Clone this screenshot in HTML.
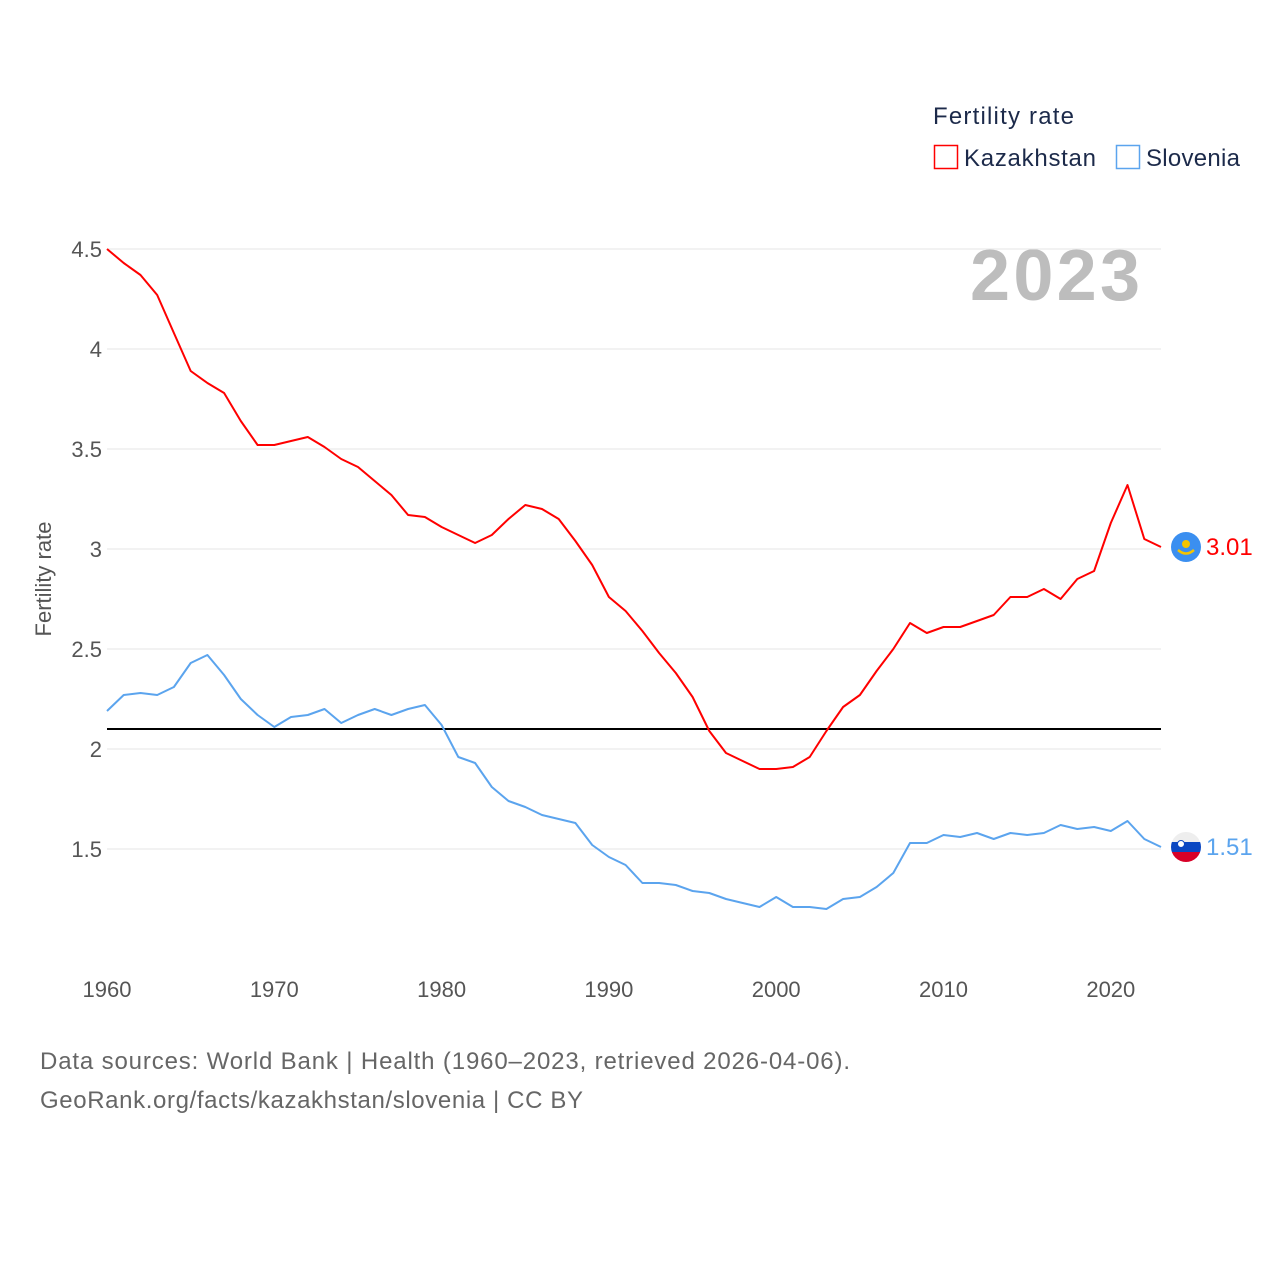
<!DOCTYPE html>
<html><head><meta charset="utf-8"><style>
html,body{margin:0;padding:0;background:#fff;}
body{width:1280px;height:1280px;overflow:hidden;font-family:"Liberation Sans",sans-serif;}
svg text{font-family:"Liberation Sans",sans-serif;}
</style></head><body>
<svg id="chart" width="1280" height="1280" viewBox="0 0 1280 1280">
<g>
<text x="933" y="124" font-size="24" fill="#1c2a4a" textLength="141">Fertility rate</text>
<rect x="934.5" y="145.5" width="23" height="23" fill="none" stroke="#ff0000" stroke-width="1.5"/>
<text x="964" y="166" font-size="24" fill="#1c2a4a" textLength="132">Kazakhstan</text>
<rect x="1116.5" y="145.5" width="23" height="23" fill="none" stroke="#5ba4ee" stroke-width="1.5"/>
<text x="1146" y="166" font-size="24" fill="#1c2a4a" textLength="94">Slovenia</text>
</g>
<text x="970" y="300" font-size="72" font-weight="bold" fill="#bdbdbd" textLength="170">2023</text>
<text transform="translate(51,579) rotate(-90)" font-size="22" fill="#555" text-anchor="middle">Fertility rate</text>
<g id="grid"></g>
<g id="yticks"></g>
<g id="xticks"></g>
<g id="series"></g>
<text x="40" y="1069" font-size="24" fill="#666" textLength="810">Data sources: World Bank | Health (1960–2023, retrieved 2026-04-06).</text>
<text x="40" y="1108" font-size="24" fill="#666" textLength="543">GeoRank.org/facts/kazakhstan/slovenia | CC BY</text>
</svg>
<script>
const years = [];
for (let y = 1960; y <= 2023; y++) years.push(y);
const kazakhstan = [4.50,4.43,4.37,4.27,4.08,3.89,3.83,3.78,3.64,3.52,3.52,3.54,3.56,3.51,3.45,3.41,3.34,3.27,3.17,3.16,3.11,3.07,3.03,3.07,3.15,3.22,3.20,3.15,3.04,2.92,2.76,2.69,2.59,2.48,2.38,2.26,2.09,1.98,1.94,1.90,1.90,1.91,1.96,2.09,2.21,2.27,2.39,2.50,2.63,2.58,2.61,2.61,2.64,2.67,2.76,2.76,2.80,2.75,2.85,2.89,3.13,3.32,3.05,3.01];
const slovenia = [2.19,2.27,2.28,2.27,2.31,2.43,2.47,2.37,2.25,2.17,2.11,2.16,2.17,2.20,2.13,2.17,2.20,2.17,2.20,2.22,2.12,1.96,1.93,1.81,1.74,1.71,1.67,1.65,1.63,1.52,1.46,1.42,1.33,1.33,1.32,1.29,1.28,1.25,1.23,1.21,1.26,1.21,1.21,1.20,1.25,1.26,1.31,1.38,1.53,1.53,1.57,1.56,1.58,1.55,1.58,1.57,1.58,1.62,1.60,1.61,1.59,1.64,1.55,1.51];
const yTicks = [4.5,4,3.5,3,2.5,2,1.5];
const yTickLabels = ["4.5","4","3.5","3","2.5","2","1.5"];
const xTicks = [1960,1970,1980,1990,2000,2010,2020];
const replacementRate = [2.1];

const NS = "http://www.w3.org/2000/svg";
const X0 = 107, X1 = 1161;
function xs(yr){ return X0 + (yr - 1960) * (X1 - X0) / (2023 - 1960); }
function ys(v){ return 749 - (v - 2) * 200; }
function mk(tag, attrs, parent){ const e = document.createElementNS(NS, tag); for (const k in attrs) e.setAttribute(k, attrs[k]); parent.appendChild(e); return e; }

const grid = document.getElementById('grid'), yt = document.getElementById('yticks'), xt = document.getElementById('xticks'), ser = document.getElementById('series');
yTicks.forEach((v, i) => {
  const l = mk('line', {x1: X0, x2: X1, y1: ys(v), y2: ys(v), stroke: '#e6e6e6', 'stroke-width': 1}, grid);
  
  
  const t = mk('text', {x: 102, y: ys(v) + 8, 'font-size': 22, fill: '#555', 'text-anchor': 'end'}, yt);
  t.textContent = yTickLabels[i];
  
  
});
xTicks.forEach(yr => {
  const t = mk('text', {x: xs(yr), y: 997, 'font-size': 22, fill: '#555', 'text-anchor': 'middle'}, xt);
  t.textContent = String(yr);
  
  
});
const ref = mk('line', {x1: X0, x2: X1, y1: ys(replacementRate[0]), y2: ys(replacementRate[0]), stroke: '#000', 'stroke-width': 2}, ser);



function drawSeries(vals, color, name){
  const d = vals.map((v, i) => (i ? 'L' : 'M') + xs(years[i]).toFixed(1) + ',' + ys(v).toFixed(1)).join(' ');
  const p = mk('path', {d: d, fill: 'none', stroke: color, 'stroke-width': 2, 'stroke-linejoin': 'round'}, ser);
  
  
}
drawSeries(kazakhstan, '#ff0000', 'kazakhstan');
drawSeries(slovenia, '#5ba4ee', 'slovenia');

const lastK = kazakhstan[kazakhstan.length - 1], lastS = slovenia[slovenia.length - 1];
const kx = 1186, ky = ys(lastK), sy = ys(lastS);
const kf = mk('g', {}, ser);


mk('circle', {cx: kx, cy: ky, r: 15, fill: '#3b8ff0'}, kf);
mk('circle', {cx: kx, cy: ky - 3, r: 4, fill: '#f5c400'}, kf);
mk('path', {d: `M${kx-8},${ky+3} Q${kx},${ky+10} ${kx+8},${ky+3}`, fill: 'none', stroke: '#f5c400', 'stroke-width': 2.5}, kf);
const kl = mk('text', {x: 1206, y: ky + 8, 'font-size': 24, fill: '#ff0000'}, ser);
kl.textContent = lastK.toFixed(2);



const sf = mk('g', {}, ser);


const cp = mk('clipPath', {id: 'slc'}, sf);
mk('circle', {cx: kx, cy: sy, r: 15}, cp);
mk('rect', {x: kx-15, y: sy-15, width: 30, height: 10, fill: '#eeeeee', 'clip-path': 'url(#slc)'}, sf);
mk('rect', {x: kx-15, y: sy-5, width: 30, height: 10, fill: '#0a47c2', 'clip-path': 'url(#slc)'}, sf);
mk('rect', {x: kx-15, y: sy+5, width: 30, height: 10, fill: '#d80027', 'clip-path': 'url(#slc)'}, sf);
mk('circle', {cx: kx-5, cy: sy-3, r: 3.5, fill: '#fff', stroke: '#0a47c2', 'stroke-width': 1}, sf);
const sl = mk('text', {x: 1206, y: sy + 8, 'font-size': 24, fill: '#5ba4ee'}, ser);
sl.textContent = lastS.toFixed(2);


</script>
</body></html>
